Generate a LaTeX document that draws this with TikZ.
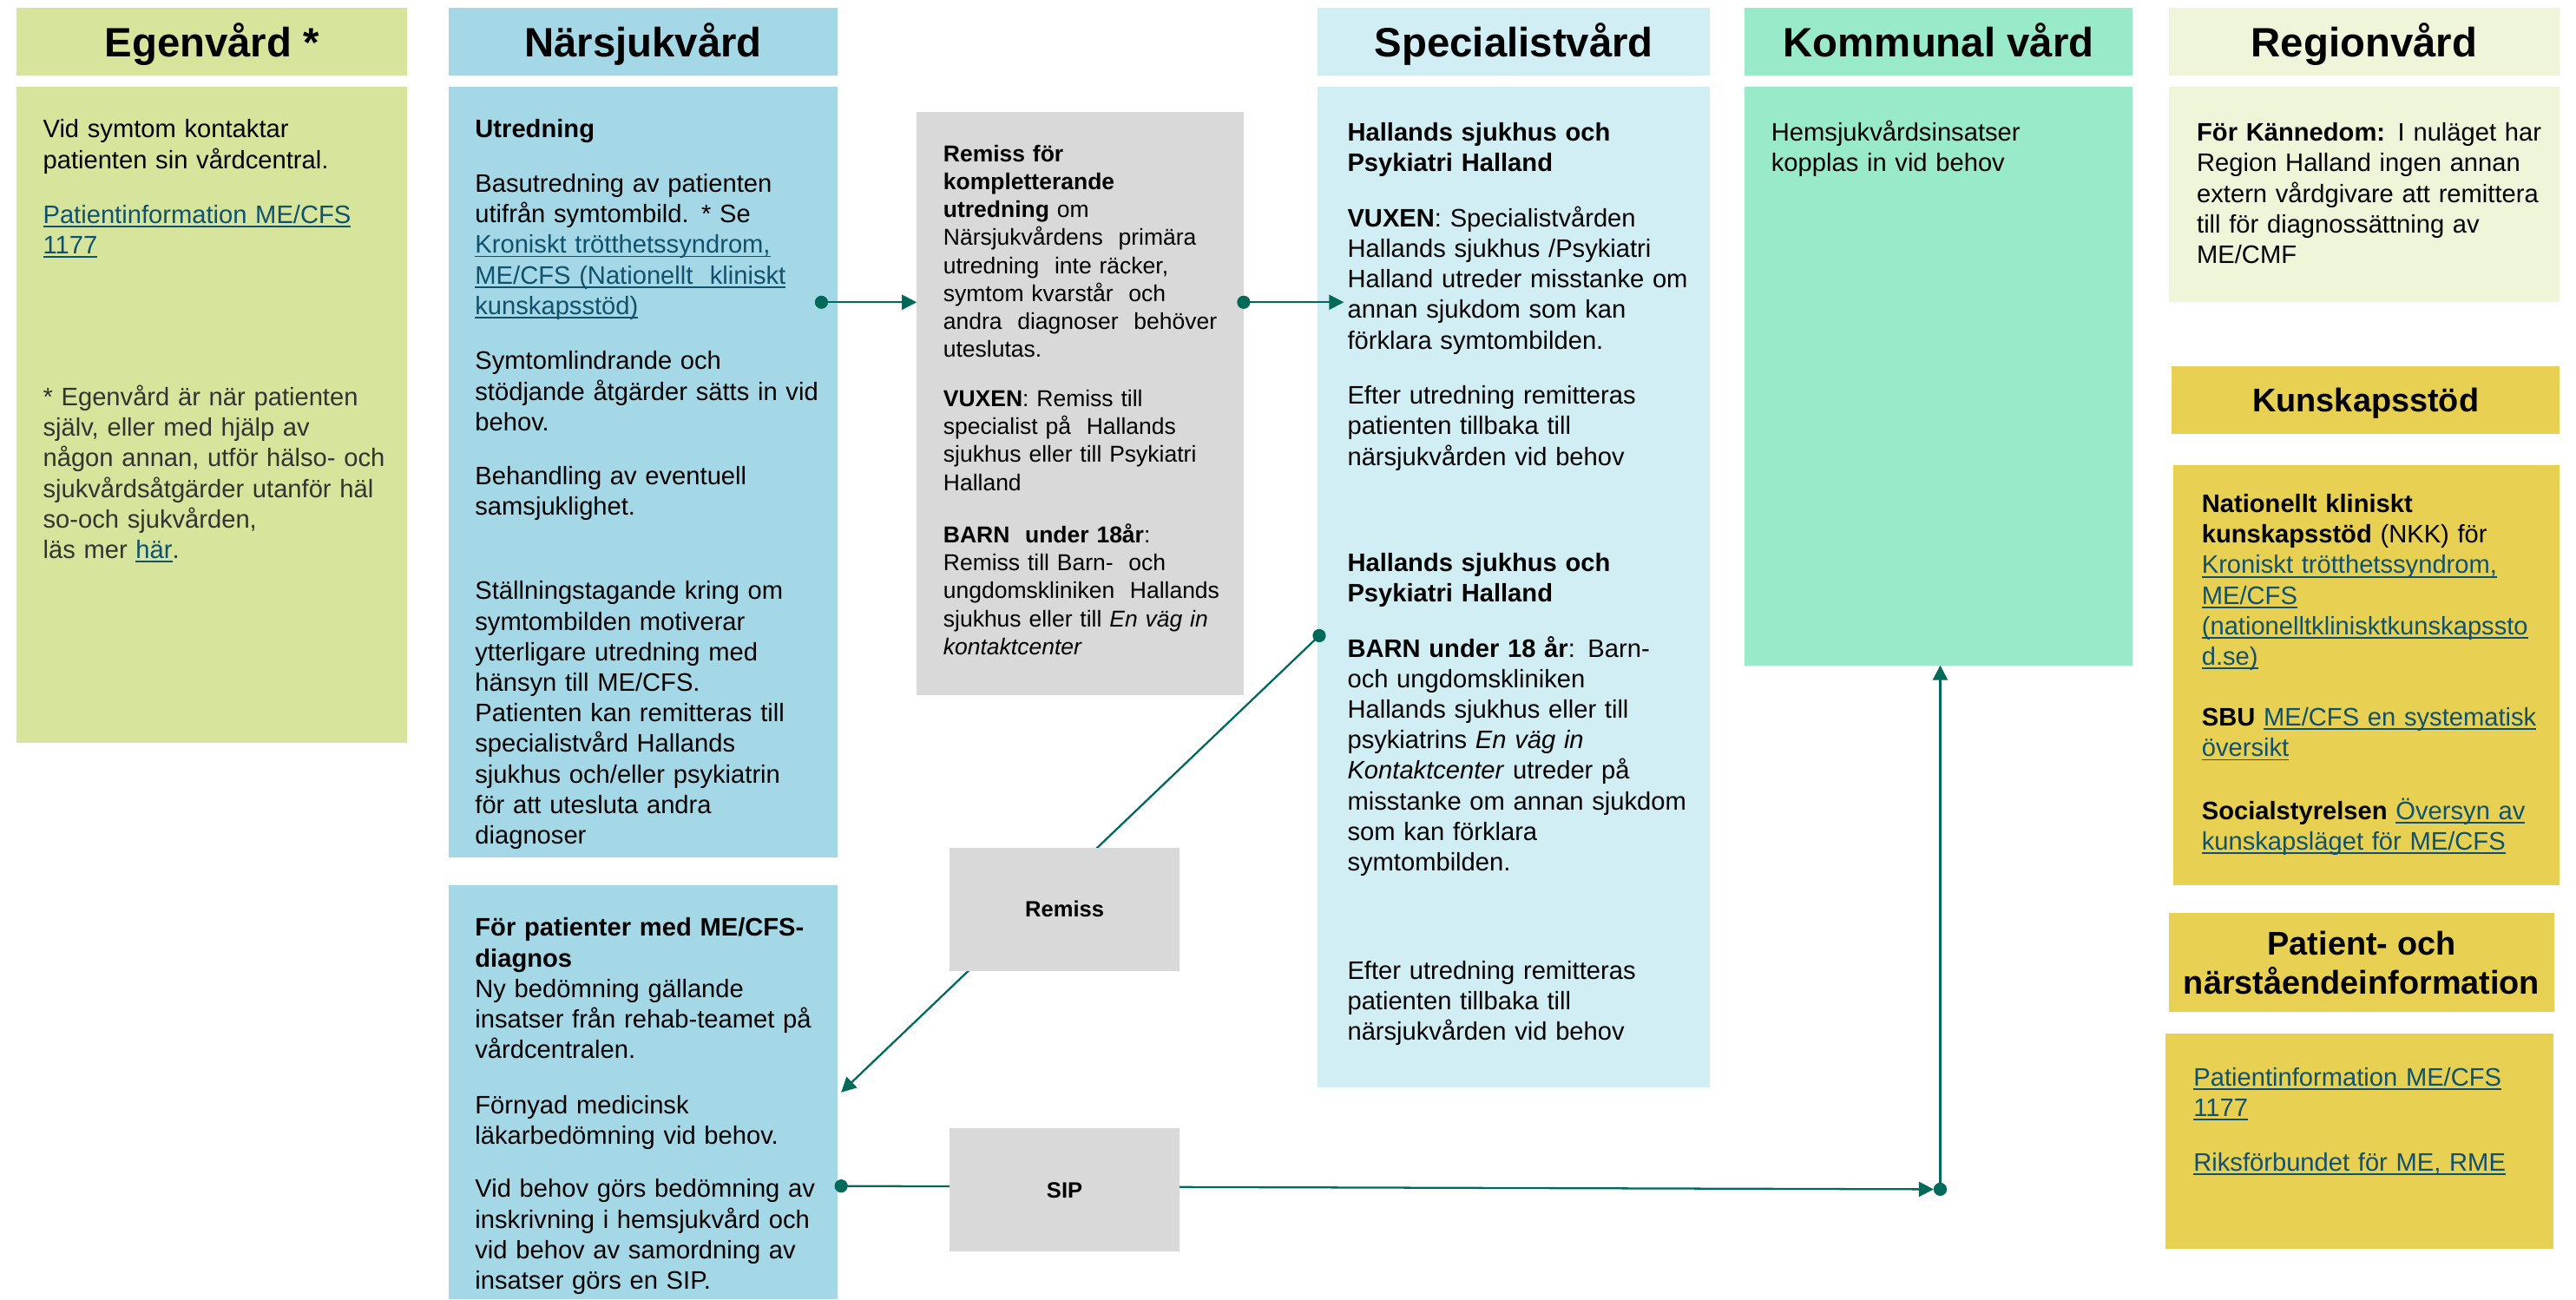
\documentclass[tikz,border=0pt]{standalone}
\usepackage{fontspec}
\setmainfont{Liberation Sans}
\usetikzlibrary{arrows.meta}
\definecolor{egen}{RGB}{215,228,156}
\definecolor{nars}{RGB}{165,216,230}
\definecolor{grayb}{RGB}{217,217,217}
\definecolor{spec}{RGB}{208,238,244}
\definecolor{komm}{RGB}{152,234,200}
\definecolor{regi}{RGB}{238,245,216}
\definecolor{kuns}{RGB}{232,208,82}
\definecolor{connc}{RGB}{0,106,90}
\definecolor{linkc}{RGB}{16,82,110}
\definecolor{footg}{RGB}{51,51,51}
\newcommand{\lnk}[1]{\leavevmode{\color{linkc}\setbox0\hbox{#1}\rlap{\rule[-2.4pt]{\wd0}{1pt}}\box0}}
\begin{document}
\begin{tikzpicture}[x=1pt,y=-1pt,
  panel/.style={anchor=north west, inner sep=0pt, outer sep=0pt},
  hdr/.style={panel, font=\fontsize{25}{30}\selectfont\bfseries, text height=17.9pt, text depth=0pt},
  txt/.style={anchor=base west, inner sep=0pt, text width=300pt, align=left, font=\fontsize{15.4}{18.6}\selectfont},
  small/.style={txt, font=\fontsize{14}{17}\selectfont},
  conn/.style={draw=connc, line width=1.2pt},
  dotarr/.style={conn, {Circle[length=8pt]}-{Triangle[length=9pt,width=9pt]}}
]
\useasboundingbox (0,0) rectangle (1568,791);

% headers and panels
\node[hdr, fill=egen, minimum width=238pt, minimum height=41pt] (egH) at (10,5) {Egenvård *};
\node[panel, fill=egen, minimum width=238pt, minimum height=399pt] (egB) at (10,53) {};
\node[hdr, fill=nars, minimum width=237pt, minimum height=41pt] (nsH) at (273,5) {Närsjukvård};
\node[panel, fill=nars, minimum width=237pt, minimum height=469pt] (nsB1) at (273,53) {};
\node[panel, fill=nars, minimum width=237pt, minimum height=252pt] (nsB2) at (273,539) {};
\node[panel, fill=grayb, minimum width=199pt, minimum height=355pt] (rem1) at (558,68) {};
\node[hdr, fill=spec, minimum width=239pt, minimum height=41pt] (spH) at (802,5) {Specialistvård};
\node[panel, fill=spec, minimum width=239pt, minimum height=609pt] (spB) at (802,53) {};
\node[hdr, fill=komm, minimum width=236pt, minimum height=41pt] (kmH) at (1062,5) {Kommunal vård};
\node[panel, fill=komm, minimum width=236pt, minimum height=352pt] (kmB) at (1062,53) {};
\node[hdr, fill=regi, minimum width=238pt, minimum height=41pt] (rgH) at (1320,5) {Regionvård};
\node[panel, fill=regi, minimum width=238pt, minimum height=131pt] (rgB) at (1320,53) {};
\node[hdr, fill=kuns, minimum width=236pt, minimum height=41pt, font=\fontsize{20}{24}\selectfont\bfseries, text height=14.3pt] (ksH) at (1322,223) {Kunskapsstöd};
\node[panel, fill=kuns, minimum width=235pt, minimum height=256pt] (ksB) at (1323,283) {};
\node[panel, fill=kuns, minimum width=235pt, minimum height=60pt, align=center, font=\fontsize{20}{24}\selectfont\bfseries] (ptH) at (1320,556) {Patient- och\\närståendeinformation};
\node[panel, fill=kuns, minimum width=236pt, minimum height=131pt] (ptB) at (1318,629) {};

% connector end points
\coordinate (aS) at (496,184);
\coordinate (bS) at (753,184);
\coordinate (bE) at (818,184);
\coordinate (cS) at (805.9,384.2);
\coordinate (cE) at (512,665);
\coordinate (dS) at (508,722);
\coordinate (dE) at (1177,724);
\coordinate (eS) at (1181,728);

\draw[dotarr] (aS) -- (aS -| rem1.west);
\draw[dotarr] (bS) -- (bE);
\draw[dotarr] (cS) -- (cE);
\draw[dotarr] (dS) -- (dE);
\draw[dotarr] (eS) -- (eS |- kmB.south);

% small boxes over the connectors
\node[panel, fill=grayb, minimum width=140pt, minimum height=75pt, font=\fontsize{13.5}{16}\selectfont\bfseries, text height=9.7pt, text depth=0pt] (remiss) at (578,516) {Remiss};
\node[panel, fill=grayb, minimum width=140pt, minimum height=75pt, font=\fontsize{13.5}{16}\selectfont\bfseries, text height=9.7pt, text depth=0pt] (sip) at (578,687) {SIP};

% Egenvård texts
\node[txt] (eg1) at (26,84) {Vid symtom kontaktar\\patienten sin vårdcentral.};
\node[txt] (eg2) at (26,136) {\lnk{Patientinformation ME/CFS}\\\lnk{1177}};
\node[txt, text=footg] (eg3) at (26,247) {* Egenvård är när patienten\\själv, eller med hjälp av\\någon annan, utför hälso- och\\sjukvårdsåtgärder utanför häl\\so-och sjukvården,\\läs mer \lnk{här}.};

% Närsjukvård texts
\node[txt] (ns1) at (289,84) {\textbf{Utredning}};
\node[txt] (ns2) at (289,117) {Basutredning av patienten\\utifrån symtombild. * Se\\\lnk{Kroniskt trötthetssyndrom,}\\\lnk{ME/CFS (Nationellt\ \ kliniskt}\\\lnk{kunskapsstöd)}};
\node[txt] (ns3) at (289,225) {Symtomlindrande och\\stödjande åtgärder sätts in vid\\behov.};
\node[txt] (ns4) at (289,295) {Behandling av eventuell\\samsjuklighet.};
\node[txt] (ns5) at (289,365) {Ställningstagande kring om\\symtombilden motiverar\\ytterligare utredning med\\hänsyn till ME/CFS.\\Patienten kan remitteras till\\specialistvård Hallands\\sjukhus och/eller psykiatrin\\för att utesluta andra\\diagnoser};
\node[txt] (ns6) at (289,570) {\textbf{För patienter med ME/CFS-}\\\textbf{diagnos}\\Ny bedömning gällande\\insatser från rehab-teamet på\\vårdcentralen.};
\node[txt] (ns7) at (289,678) {Förnyad medicinsk\\läkarbedömning vid behov.};
\node[txt] (ns8) at (289,729) {Vid behov görs bedömning av\\inskrivning i hemsjukvård och\\vid behov av samordning av\\insatser görs en SIP.};

% gray referral box texts
\node[small] (gr1) at (574,98.5) {\textbf{Remiss för}\\\textbf{kompletterande}\\\textbf{utredning} om\\Närsjukvårdens\ \ primära\\utredning\ \ inte räcker,\\symtom kvarstår\ \ och\\andra\ \ diagnoser\ \ behöver\\uteslutas.};
\node[small] (gr2) at (574,247.5) {\textbf{VUXEN}: Remiss till\\specialist på\ \ Hallands\\sjukhus eller till Psykiatri\\Halland};
\node[small] (gr3) at (574,330.5) {\textbf{BARN\ \ under 18år}:\\Remiss till Barn-\ \ och\\ungdomskliniken\ \ Hallands\\sjukhus eller till \textit{En väg in}\\\textit{kontaktcenter}};

% Specialistvård texts
\node[txt] (sp1) at (820,86) {\textbf{Hallands sjukhus och}\\\textbf{Psykiatri Halland}};
\node[txt] (sp2) at (820,138) {\textbf{VUXEN}: Specialistvården\\Hallands sjukhus /Psykiatri\\Halland utreder misstanke om\\annan sjukdom som kan\\förklara symtombilden.};
\node[txt] (sp3) at (820,246) {Efter utredning remitteras\\patienten tillbaka till\\närsjukvården vid behov};
\node[txt] (sp4) at (820,348) {\textbf{Hallands sjukhus och}\\\textbf{Psykiatri Halland}};
\node[txt] (sp5) at (820,400) {\textbf{BARN under 18 år}: Barn-\\och ungdomskliniken\\Hallands sjukhus eller till\\psykiatrins \textit{En väg in}\\\textit{Kontaktcenter} utreder på\\misstanke om annan sjukdom\\som kan förklara\\symtombilden.};
\node[txt] (sp6) at (820,596) {Efter utredning remitteras\\patienten tillbaka till\\närsjukvården vid behov};

% Kommunal vård
\node[txt] (km1) at (1078,86) {Hemsjukvårdsinsatser\\kopplas in vid behov};

% Regionvård
\node[txt] (rg1) at (1337,86) {\textbf{För Kännedom:} I nuläget har\\Region Halland ingen annan\\extern vårdgivare att remittera\\till för diagnossättning av\\ME/CMF};

% Kunskapsstöd
\node[txt] (ks1) at (1340,312) {\textbf{Nationellt kliniskt}\\\textbf{kunskapsstöd} (NKK) för\\\lnk{Kroniskt trötthetssyndrom,}\\\lnk{ME/CFS}\\\lnk{(nationelltkliniskt­kunskapssto}\\\lnk{d.se)}};
\node[txt] (ks2) at (1340,442) {\textbf{SBU} \lnk{ME/CFS en systematisk}\\\lnk{översikt}};
\node[txt] (ks3) at (1340,499) {\textbf{Socialstyrelsen} \lnk{Översyn av}\\\lnk{kunskapsläget för ME/CFS}};

% Patient- och närståendeinformation
\node[txt] (pt1) at (1335,661) {\lnk{Patientinformation ME/CFS}\\\lnk{1177}};
\node[txt] (pt2) at (1335,713) {\lnk{Riksförbundet för ME, RME}};
\end{tikzpicture}
\end{document}
